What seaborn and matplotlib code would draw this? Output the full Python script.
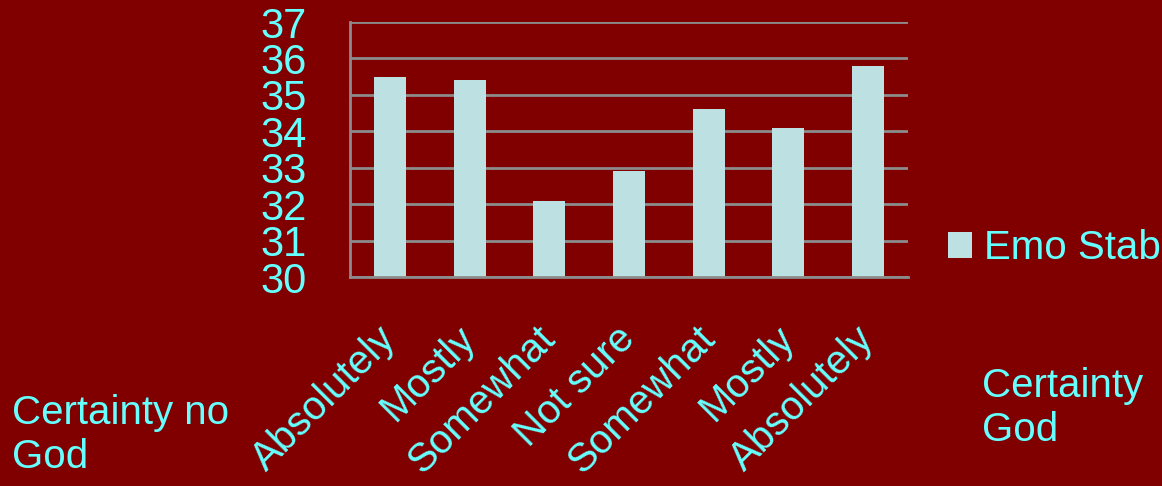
import seaborn as sns
import pandas as pd
import matplotlib.pyplot as plt

# values
categories = ['Absolutely', 'Mostly', 'Somewhat', 'Not sure', 'Somewhat', 'Mostly', 'Absolutely']
emo_stab = [35.5, 35.4, 32.1, 32.9, 34.6, 34.1, 35.8]
y_ticks = [30, 31, 32, 33, 34, 35, 36, 37]

bg = '#800000'
bar_col = '#BDE0E3'
txt_col = '#66FFFF'
grid_col = '#8C8C8C'

df = pd.DataFrame({'pos': range(len(categories)), 'value': emo_stab, 'series': 'Emo Stab'})

sns.set_style("white")
plt.rcParams['font.family'] = ['Liberation Sans', 'DejaVu Sans']

fig = plt.figure(figsize=(11.62, 4.86), dpi=100, facecolor=bg)
ax = fig.add_axes([350 / 1162, 1 - 277 / 486, (908 - 350) / 1162, (277 - 22) / 486])
ax.set_facecolor(bg)

sns.barplot(data=df, x='pos', y='value', hue='series', palette=[bar_col],
            width=0.4, ax=ax, legend=True, saturation=1, linewidth=0)

ax.set_ylim(30, 37)
ax.set_xlim(-0.5, len(categories) - 0.5)
ax.set_yticks(y_ticks)
ax.yaxis.grid(True, color=grid_col, linewidth=2)
ax.set_axisbelow(True)

# x labels at centers, tick marks at boundaries
ax.set_xticks(range(len(categories)))
ax.set_xticklabels(categories, rotation=45, ha='right', va='center', rotation_mode='anchor')
ax.set_xticks([i - 0.5 for i in range(len(categories) + 1)], minor=True)
ax.tick_params(axis='x', which='major', length=0, pad=40, labelsize=29, labelcolor=txt_col)
ax.tick_params(axis='x', which='minor', length=13, width=2, color=grid_col, direction='out')
ax.tick_params(axis='y', length=12, width=2, color=grid_col, direction='out', pad=19,
               labelsize=30, labelcolor=txt_col)

ax.set_xlabel('')
ax.set_ylabel('')
for s in ['top', 'right']:
    ax.spines[s].set_visible(False)
for s in ['left', 'bottom']:
    ax.spines[s].set_color(grid_col)
    ax.spines[s].set_linewidth(2)

handles, labels = ax.get_legend_handles_labels()
ax.get_legend().remove()
leg = fig.legend(handles, labels, loc='center left', bbox_to_anchor=(948 / 1162, 1 - 248 / 486),
                 frameon=False, fontsize=29, handlelength=0.6, handleheight=0.6,
                 handletextpad=0.3, borderpad=0, borderaxespad=0)
for t in leg.get_texts():
    t.set_color(txt_col)

fig.text(12 / 1162, 1 - 435 / 486, 'Certainty no\nGod', color=txt_col, fontsize=29,
         ha='left', va='center', linespacing=1.2)
fig.text(982 / 1162, 1 - 408 / 486, 'Certainty\nGod', color=txt_col, fontsize=29,
         ha='left', va='center', linespacing=1.2)

fig.savefig('out.png', dpi=100, facecolor=bg)
